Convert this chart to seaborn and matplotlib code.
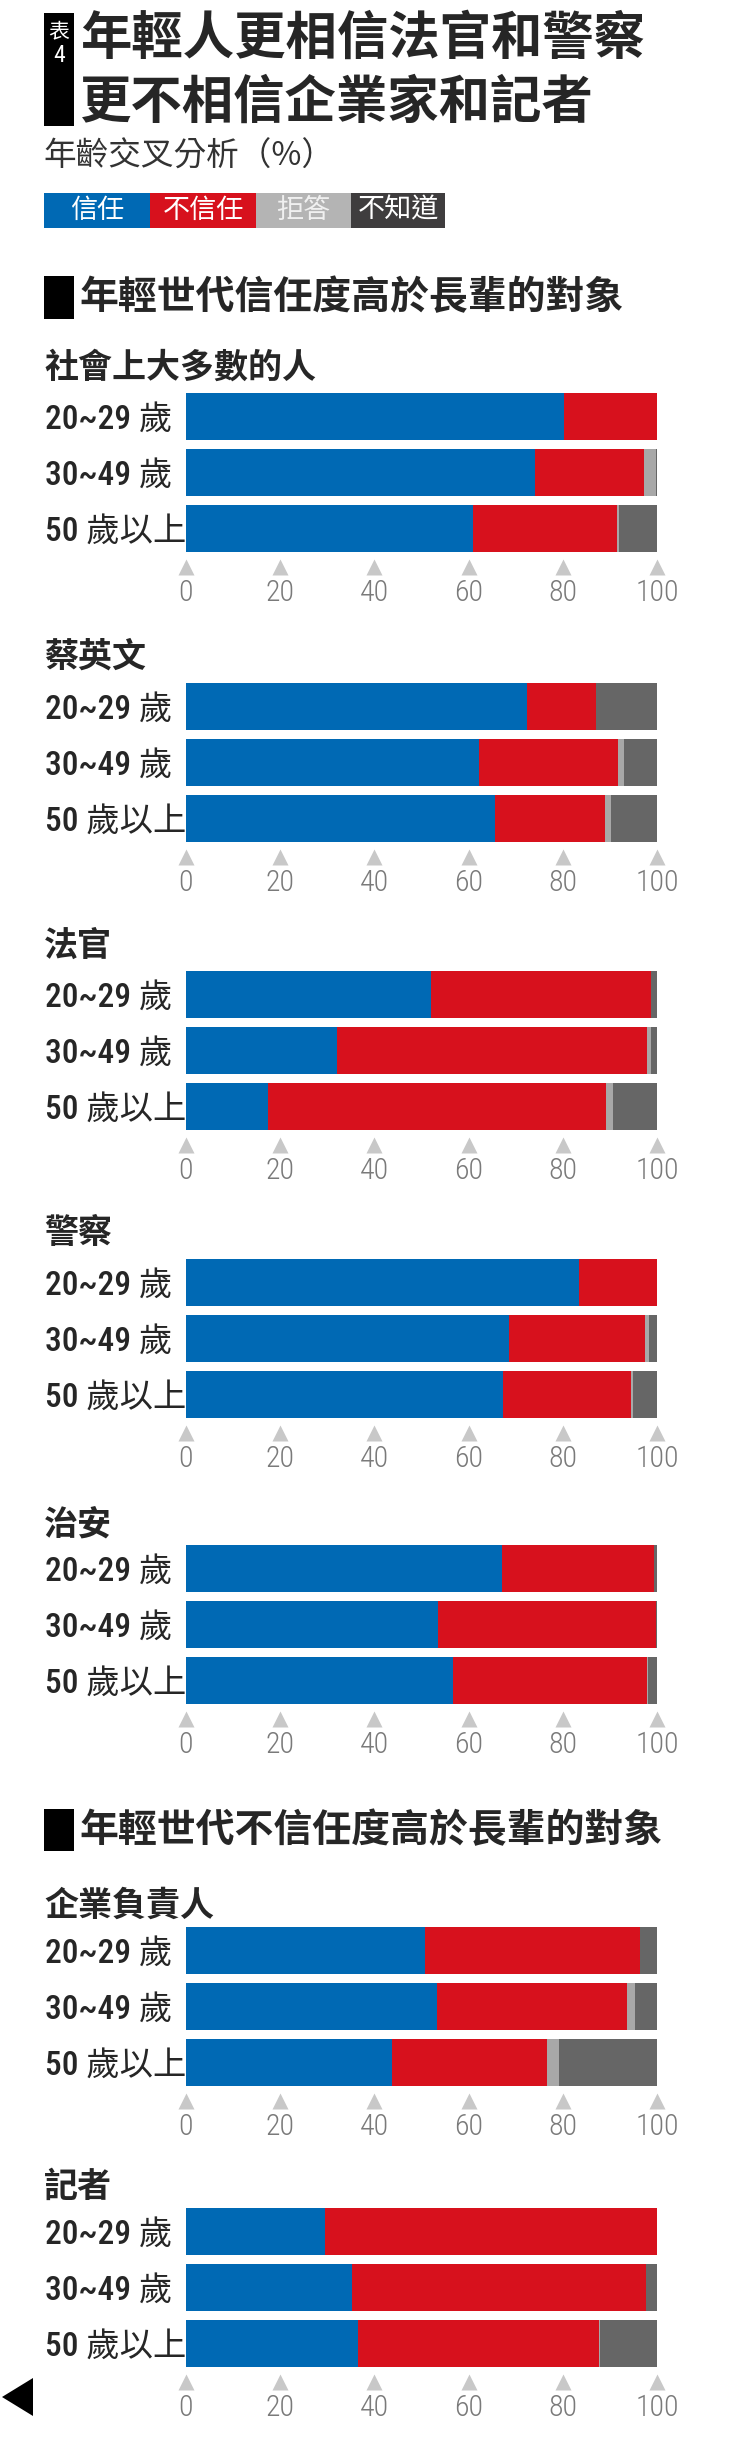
import matplotlib
matplotlib.use("Agg")
import matplotlib.pyplot as plt
import matplotlib.transforms as mtransforms
from matplotlib import font_manager
from matplotlib.patches import Rectangle, Polygon
import seaborn as sns
import pandas as pd

# Data (%)
groups = ["社會上大多數的人", "蔡英文", "法官", "警察", "治安", "企業負責人", "記者"]
ages = ["20~29 歲", "30~49 歲", "50 歲以上"]
answers = ["信任", "不信任", "拒答", "不知道"]

trust = [[80.3, 74.2, 60.9], [72.4, 62.3, 65.7], [52.1, 32.0, 17.5], [83.4, 68.6, 67.4],
         [67.1, 53.4, 56.6], [50.7, 53.3, 43.7], [29.5, 35.2, 36.6]]
distrust = [[19.7, 23.0, 30.7], [14.7, 29.4, 23.3], [46.6, 65.8, 71.6], [16.6, 28.8, 27.1],
            [32.2, 46.4, 41.2], [45.7, 40.3, 32.9], [70.5, 62.5, 51.0]]
refuse = [[0, 2.5, 0.3], [0, 1.3, 1.2], [0, 1.0, 1.5], [0, 1.0, 0.5],
          [0, 0, 0.3], [0, 1.8, 2.5], [0, 0, 0.3]]
dunno = [[0, 0.3, 8.1], [12.9, 7.0, 9.8], [1.3, 1.2, 9.4], [0, 1.6, 5.0],
         [0.7, 0.2, 1.9], [3.6, 4.6, 20.9], [0, 2.3, 12.1]]
xticks = [0, 20, 40, 60, 80, 100]

colors = ["#0069b4", "#d7111d", "#a8a8a8", "#666666"]
legend_colors = ["#0069b4", "#d7111d", "#b4b4b4", "#3f3d3e"]

sns.set_style("white")
plt.rcParams["font.family"] = ["Noto Sans CJK TC", "DejaVu Sans"]

# narrow font for digits if any is installed
names = {f.name for f in font_manager.fontManager.ttflist}
cond = next((n for n in ["Roboto Condensed", "Liberation Sans Narrow", "Open Sans Condensed",
                         "Arial Narrow", "Roboto"] if n in names), "DejaVu Sans")
num_family = [cond, "Noto Sans CJK TC"]

W, H = 743, 2464
fig = plt.figure(figsize=(W / 100, H / 100), dpi=100)


def fx(x):
    return x / W


def fy(y):
    return 1 - y / H


def box(x0, y0, x1, y1, color):
    fig.patches.append(Rectangle((fx(x0), fy(y1)), (x1 - x0) / W, (y1 - y0) / H,
                                 transform=fig.transFigure, color=color, lw=0))


# Header
box(44, 13, 74, 126, "black")
fig.text(fx(59), fy(31), "表", color="white", fontsize=15, ha="center", va="center")
fig.text(fx(59), fy(55), "4", color="white", fontsize=17, ha="center", va="center", family=num_family)
fig.text(fx(80), fy(38), "年輕人更相信法官和警察", fontsize=37, weight="bold", va="center")
fig.text(fx(80), fy(102), "更不相信企業家和記者", fontsize=37, weight="bold", va="center")
fig.text(fx(43), fy(157), "年齡交叉分析（%）", fontsize=23.5, weight="light", color="#333333", va="center")

legend_x = [44, 150, 256, 351, 445]
legend_text = ["white", "white", "#f0f0f0", "white"]
for i, ans in enumerate(answers):
    box(legend_x[i], 193, legend_x[i + 1], 228, legend_colors[i])
    fig.text(fx((legend_x[i] + legend_x[i + 1]) / 2), fy(210), ans, color=legend_text[i],
             fontsize=19.5, ha="center", va="center")

# Section headers
sections = [("年輕世代信任度高於長輩的對象", 276, 319), ("年輕世代不信任度高於長輩的對象", 1809, 1851)]
for text, y0, y1 in sections:
    box(44, y0, 74, y1, "black")
    fig.text(fx(80), fy((y0 + y1) / 2), text, fontsize=28, weight="bold", va="center")

bar_tops = [393, 683, 971, 1259, 1545, 1927, 2208]
title_y = [367, 656, 945, 1233, 1524, 1905, 2186]
pitch = 56

for g, name in enumerate(groups):
    df = pd.DataFrame({"年齡": ages, "信任": trust[g], "不信任": distrust[g],
                       "拒答": refuse[g], "不知道": dunno[g]})
    cum = df[answers].cumsum(axis=1)
    cum["年齡"] = df["年齡"]

    top = bar_tops[g] - 0.08 * pitch
    ax = fig.add_axes([fx(186), fy(top + 3 * pitch), 471 / W, 3 * pitch / H])
    # stacked bars: draw cumulative totals from the back
    for ans, col in reversed(list(zip(answers, colors))):
        sns.barplot(data=cum, x=ans, y="年齡", color=col, saturation=1, width=0.84,
                    orient="h", linewidth=0, ax=ax)
    ax.set_xlim(0, 100)
    ax.set_ylim(2.5, -0.5)
    ax.set_xlabel("")
    ax.set_ylabel("")
    for s in ax.spines.values():
        s.set_visible(False)

    ax.set_yticks(range(len(ages)))
    ax.set_yticklabels(ages, ha="left", family=num_family, fontsize=24, weight="medium")
    ax.tick_params(axis="y", length=0, pad=(186 - 45) * 0.72)

    ax.set_xticks(xticks)
    ax.set_xticklabels([str(t) for t in xticks], family=num_family, fontsize=21.5,
                       color="#7a7a7a", weight="light")
    ax.tick_params(axis="x", length=0, pad=16)
    trans = mtransforms.blended_transform_factory(ax.transData, ax.transAxes)
    ax.plot(xticks, [-10 / (3 * pitch)] * len(xticks), ls="", marker="^", ms=11.5,
            color="#c8c8c8", mec="none", transform=trans, clip_on=False)

    fig.text(fx(44), fy(title_y[g]), name, fontsize=24.5, weight="bold", va="center")

# back arrow at the bottom
fig.patches.append(Polygon([(fx(2), fy(2397)), (fx(33), fy(2378)), (fx(33), fy(2416))],
                           closed=True, transform=fig.transFigure, color="black", lw=0))

fig.savefig("out.png", dpi=100)
